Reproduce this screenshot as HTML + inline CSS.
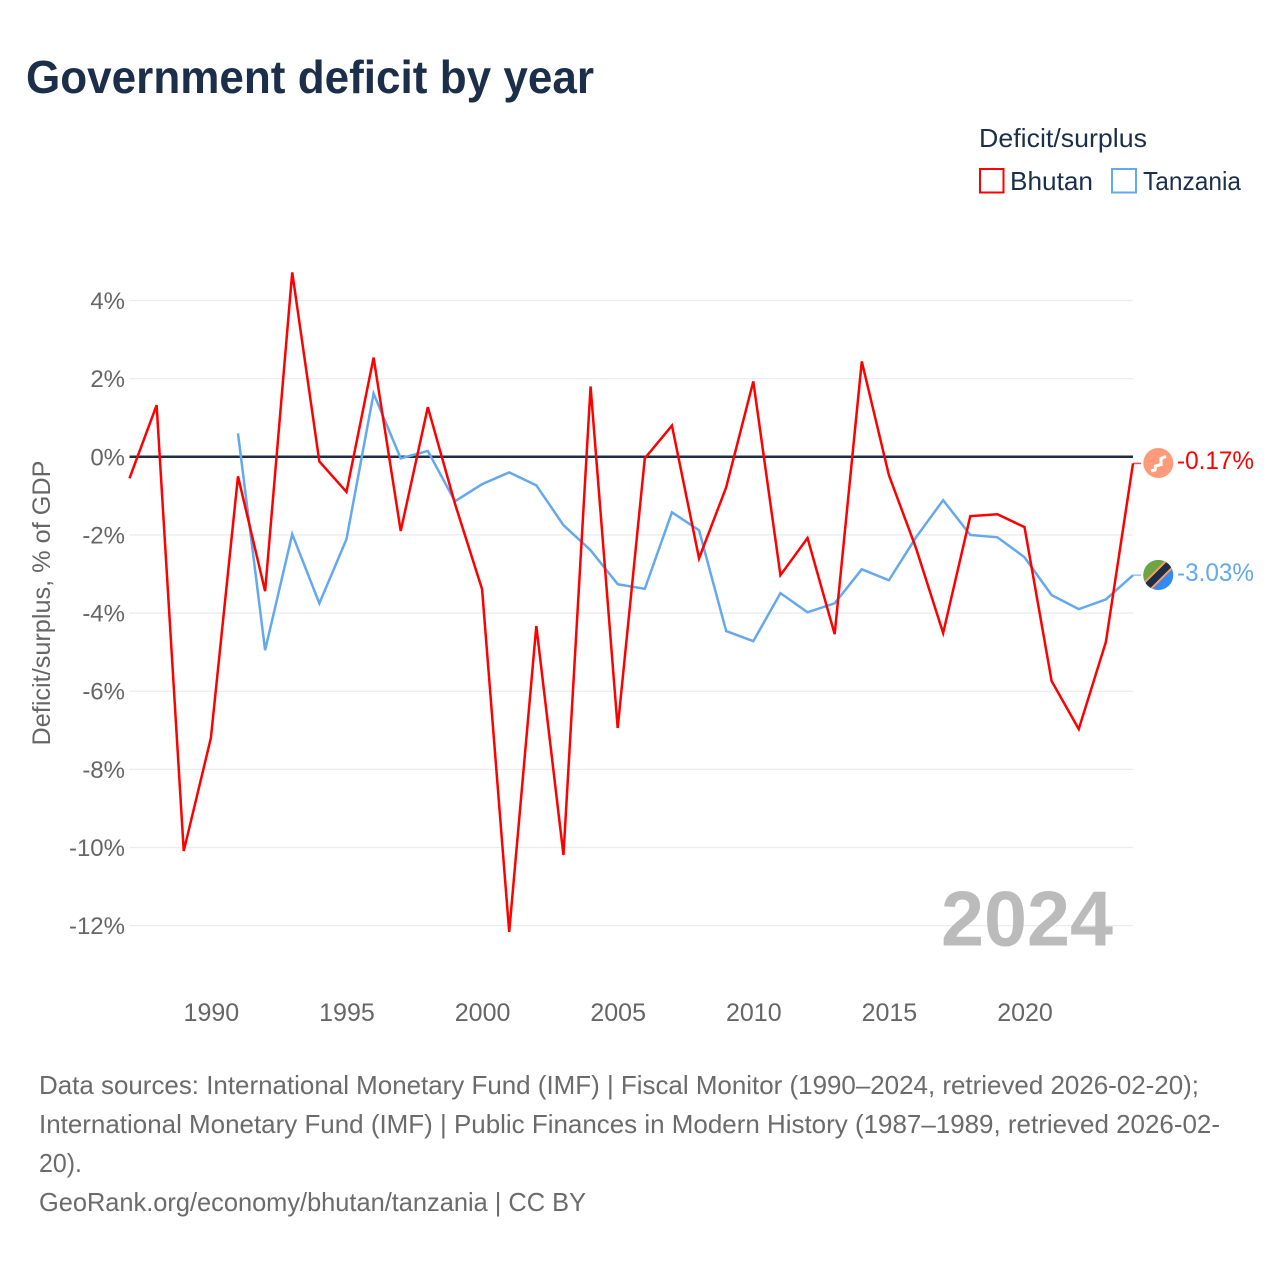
<!DOCTYPE html>
<html lang="en">
<head>
<meta charset="utf-8">
<title>Government deficit by year</title>
<style>
html,body{margin:0;padding:0;background:#fff;}
svg{display:block;}
text{font-family:"Liberation Sans",sans-serif;}
</style>
</head>
<body>
<svg id="chart" width="1280" height="1280" viewBox="0 0 1280 1280" xmlns="http://www.w3.org/2000/svg">
  <rect x="0" y="0" width="1280" height="1280" fill="#ffffff"/>
  <text x="26" y="93" font-size="46" font-weight="700" fill="#1c2f4a" textLength="568" lengthAdjust="spacingAndGlyphs">Government deficit by year</text>

  <text x="979" y="147" font-size="26" fill="#1c2f4a" textLength="168" lengthAdjust="spacingAndGlyphs">Deficit/surplus</text>
  <rect x="980" y="169" width="23.5" height="23.5" fill="none" stroke="#ff0000" stroke-width="2"/>
  <text x="1010" y="190" font-size="26" fill="#1c2f4a" textLength="83" lengthAdjust="spacingAndGlyphs">Bhutan</text>
  <rect x="1112" y="169" width="24" height="23.5" fill="none" stroke="#64a8ee" stroke-width="2"/>
  <text x="1143" y="190" font-size="26" fill="#1c2f4a" textLength="98" lengthAdjust="spacingAndGlyphs">Tanzania</text>

  <text transform="translate(50,603) rotate(-90)" text-anchor="middle" font-size="25" fill="#666666" textLength="285" lengthAdjust="spacingAndGlyphs">Deficit/surplus, % of GDP</text>

  <g id="grid"></g>
  <g id="y-ticks"></g>
  <g id="x-ticks"></g>

  <text x="941" y="945.5" font-size="78" font-weight="700" fill="#bbbbbb" textLength="172" lengthAdjust="spacingAndGlyphs">2024</text>

  <g id="series"></g>

  <defs>
    <clipPath id="tz-clip"><circle cx="1158.3" cy="575" r="15"/></clipPath>
  </defs>
  <g>
    <circle cx="1158.3" cy="463" r="15" fill="#ff9a7b"/>
    <path d="M1151 471 L1155 470 L1155.5 466 L1161 464.5 L1161 458.5 L1166 456.5" fill="none" stroke="#ffffff" stroke-width="3"/>
  </g>
  <g clip-path="url(#tz-clip)">
    <rect x="1143" y="560" width="31" height="30" fill="#338af3"/>
    <path d="M1143 560 H1174 L1143 591 Z" fill="#6da544"/>
    <path d="M1145 588.5 L1172 561.5" stroke="#ff9a5c" stroke-width="11" fill="none"/>
    <path d="M1145 588.5 L1172 561.5" stroke="#1c2f4a" stroke-width="7" fill="none"/>
  </g>
  <text id="end-label-bhutan" x="1177" y="469" font-size="25" fill="#ff0000" textLength="77" lengthAdjust="spacingAndGlyphs"></text>
  <text id="end-label-tanzania" x="1177" y="581" font-size="25" fill="#64a8ee" textLength="77" lengthAdjust="spacingAndGlyphs"></text>

  <g font-size="26" fill="#6b6b6b">
    <text x="39" y="1094" textLength="1160" lengthAdjust="spacingAndGlyphs">Data sources: International Monetary Fund (IMF) | Fiscal Monitor (1990–2024, retrieved 2026-02-20);</text>
    <text x="39" y="1133" textLength="1181" lengthAdjust="spacingAndGlyphs">International Monetary Fund (IMF) | Public Finances in Modern History (1987–1989, retrieved 2026-02-</text>
    <text x="39" y="1172" textLength="43" lengthAdjust="spacingAndGlyphs">20).</text>
    <text x="39" y="1211" textLength="547" lengthAdjust="spacingAndGlyphs">GeoRank.org/economy/bhutan/tanzania | CC BY</text>
  </g>
</svg>
<script>
const years = [1987,1988,1989,1990,1991,1992,1993,1994,1995,1996,1997,1998,1999,2000,2001,2002,2003,2004,2005,2006,2007,2008,2009,2010,2011,2012,2013,2014,2015,2016,2017,2018,2019,2020,2021,2022,2023,2024];
const bhutan = [-0.55,1.32,-10.09,-7.2,-0.5,-3.44,4.72,-0.12,-0.9,2.54,-1.9,1.27,-1.2,-3.39,-12.16,-4.33,-10.19,1.8,-6.94,-0.04,0.8,-2.6,-0.78,1.93,-3.03,-2.08,-4.54,2.44,-0.47,-2.34,-4.51,-1.52,-1.47,-1.8,-5.74,-6.97,-4.74,-0.17];
const tanzania = [null,null,null,null,0.6,-4.95,-1.98,-3.75,-2.11,1.62,-0.04,0.15,-1.14,-0.7,-0.4,-0.73,-1.75,-2.39,-3.26,-3.38,-1.42,-1.88,-4.46,-4.72,-3.49,-3.98,-3.75,-2.88,-3.16,-2.06,-1.11,-2.0,-2.06,-2.57,-3.54,-3.9,-3.65,-3.03];
const yTickValues = [4,2,0,-2,-4,-6,-8,-10,-12];
const xTickValues = [1990,1995,2000,2005,2010,2015,2020];

const NS = 'http://www.w3.org/2000/svg';
const plotLeft = 129.5, plotRight = 1133;
function xScale(year){ return plotLeft + (year - 1987) * (plotRight - plotLeft) / 37; }
function yScale(v){ return 456.8 - v * 39.07; }
function make(tag, attrs, parent){
  const el = document.createElementNS(NS, tag);
  for (const k in attrs) el.setAttribute(k, attrs[k]);
  parent.appendChild(el);
  return el;
}

const grid = document.getElementById('grid');
const yTicks = document.getElementById('y-ticks');
yTickValues.forEach(function(v){
  const isZero = v === 0;
  const line = make('line', {x1: plotLeft, x2: plotRight, y1: yScale(v), y2: yScale(v), stroke: isZero ? '#1c2f4a' : '#ececec', 'stroke-width': isZero ? 2.5 : 1.3}, grid);
  
  
  const t = make('text', {x: 125, y: yScale(v) + 8.5, 'text-anchor': 'end', 'font-size': 24, fill: '#666666'}, yTicks);
  
  
  t.textContent = v + '%';
});

const xTicks = document.getElementById('x-ticks');
xTickValues.forEach(function(y){
  const t = make('text', {x: xScale(y) + 0.5, y: 1021, 'text-anchor': 'middle', 'font-size': 25, fill: '#666666'}, xTicks);
  
  
  t.textContent = String(y);
});

const seriesGroup = document.getElementById('series');
function drawSeries(values, color, width){
  const pts = [];
  values.forEach(function(v, i){
    if (v !== null) pts.push(xScale(years[i]).toFixed(2) + ',' + yScale(v).toFixed(2));
  });
  return make('polyline', {points: pts.join(' '), fill: 'none', stroke: color, 'stroke-width': width, 'stroke-linejoin': 'miter'}, seriesGroup);
}
function drawConnector(values, color){
  const last = values[values.length - 1];
  return make('line', {x1: plotRight, x2: 1141, y1: yScale(last), y2: yScale(last), stroke: color, 'stroke-width': 1.5, opacity: 0.7}, seriesGroup);
}

const tanzaniaLine = drawSeries(tanzania, '#64a8ee', 2.5);


const bhutanLine = drawSeries(bhutan, '#ff0000', 2.5);


const bhutanConnector = drawConnector(bhutan, '#ff0000');


const tanzaniaConnector = drawConnector(tanzania, '#64a8ee');



document.getElementById('end-label-bhutan').textContent = bhutan[bhutan.length - 1].toFixed(2) + '%';
document.getElementById('end-label-tanzania').textContent = tanzania[tanzania.length - 1].toFixed(2) + '%';
</script>
</body>
</html>
